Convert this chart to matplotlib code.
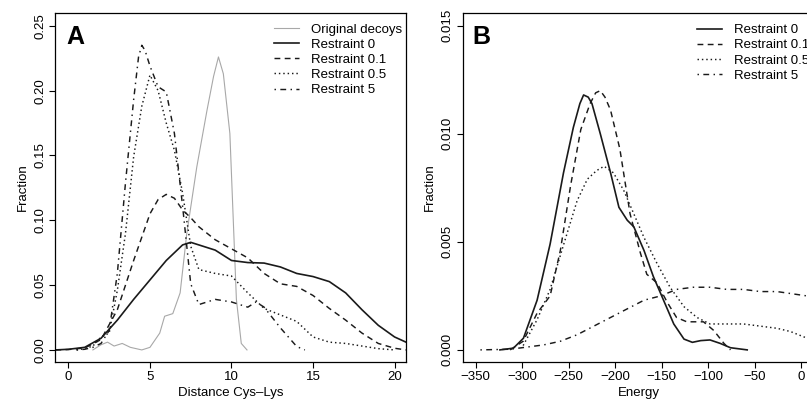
#!/usr/bin/env python3
import matplotlib
matplotlib.use("Agg")
import matplotlib.pyplot as plt

plt.rcParams['font.family'] = ['Liberation Sans', 'DejaVu Sans']

# ---- panel A: distance Cys-Lys ----
orig_x = [1.5, 2.0, 2.4, 2.8, 3.3, 3.8, 4.5, 5.0, 5.6, 5.9, 6.4, 6.85, 7.26, 7.87, 8.5, 8.9, 9.2, 9.5, 9.9, 10.1, 10.3, 10.6, 10.95]
orig_y = [0.0, 0.004, 0.006, 0.003, 0.005, 0.002, 0.0, 0.002, 0.013, 0.026, 0.028, 0.044, 0.09, 0.141, 0.185, 0.211, 0.226, 0.213, 0.167, 0.103, 0.039, 0.005, 0.0]

r0_x = [-0.8, 0, 1, 2, 3, 4, 5, 6, 7, 7.5, 8, 9, 10, 11, 12, 13, 14, 15, 16, 17, 18, 19, 20, 20.7]
r0_y = [0.0, 0.0005, 0.002, 0.009, 0.023, 0.039, 0.054, 0.069, 0.081, 0.083, 0.081, 0.077, 0.069, 0.0674, 0.067, 0.064, 0.059, 0.0566, 0.0527, 0.044, 0.031, 0.019, 0.010, 0.006]

r01_x = [-0.8, 0, 1, 2, 3, 4, 5, 5.5, 6, 6.5, 7, 7.5, 8, 9, 10, 11, 12, 13, 14, 15, 16, 17, 18, 19, 20, 20.7]
r01_y = [0.0, 0.0003, 0.0015, 0.008, 0.031, 0.069, 0.105, 0.116, 0.120, 0.117, 0.108, 0.102, 0.095, 0.085, 0.078, 0.071, 0.059, 0.051, 0.049, 0.042, 0.032, 0.023, 0.013, 0.005, 0.0013, 0.0]

r05_x = [0.5, 1, 1.5, 2, 2.5, 3, 3.5, 4, 4.5, 5, 5.5, 6, 6.5, 7, 7.5, 8, 9, 10, 11, 12, 13, 14, 15, 16, 17, 18, 19, 20]
r05_y = [0.0, 0.001, 0.003, 0.01, 0.013, 0.046, 0.09, 0.149, 0.188, 0.212, 0.2, 0.175, 0.154, 0.121, 0.08, 0.062, 0.059, 0.057, 0.044, 0.032, 0.027, 0.022, 0.010, 0.006, 0.005, 0.003, 0.001, 0.0]

r5_x = [0.5, 1, 1.5, 2, 2.5, 3, 3.5, 4, 4.3, 4.5, 4.7, 5, 5.5, 6, 6.5, 7, 7.5, 8, 8.5, 9, 10, 11, 11.5, 12, 13, 14, 14.5]
r5_y = [0.0, 0.0005, 0.002, 0.005, 0.015, 0.059, 0.129, 0.193, 0.226, 0.235, 0.231, 0.219, 0.203, 0.199, 0.167, 0.111, 0.051, 0.035, 0.037, 0.039, 0.037, 0.033, 0.037, 0.033, 0.017, 0.0026, 0.0]

# ---- panel B: energy ----
e0_x = [-324, -309.5, -298.7, -284, -270, -255.6, -245, -238, -234, -229, -225, -216, -205, -196, -187, -180, -169, -159, -148, -137, -126, -117, -108, -98, -87, -76, -58]
e0_y = [0.0, 0.00008, 0.00054, 0.0023, 0.0049, 0.0082, 0.0103, 0.0114, 0.0118, 0.0117, 0.0114, 0.0100, 0.0082, 0.0066, 0.0060, 0.0057, 0.0046, 0.0034, 0.0023, 0.0012, 0.0005, 0.00035, 0.00043, 0.00046, 0.0003, 0.0001, 0.0]

e01_x = [-313, -299, -284, -270, -259, -248, -237, -227, -221, -216, -211, -205, -195, -184, -173, -166, -155, -144, -134, -123, -105, -94, -83, -76]
e01_y = [0.0, 0.0004, 0.0017, 0.0025, 0.0046, 0.0076, 0.0102, 0.0114, 0.0119, 0.0120, 0.0117, 0.0111, 0.0093, 0.0063, 0.0045, 0.0035, 0.0031, 0.0022, 0.0015, 0.0013, 0.0013, 0.0009, 0.0003, 0.0]

e05_x = [-299, -284, -270, -256, -241, -230, -220, -212, -202, -191, -180, -169, -155, -141, -126, -112, -98, -80, -62, -44, -26, -11.5, 3, 15]
e05_y = [0.0002, 0.0014, 0.0028, 0.0048, 0.0069, 0.0079, 0.0083, 0.0085, 0.0082, 0.0074, 0.0063, 0.0052, 0.0040, 0.0029, 0.0020, 0.0015, 0.0012, 0.0012, 0.0012, 0.0011, 0.0010, 0.00085, 0.0006, 0.0004]

e5_x = [-345, -313, -277, -259, -241, -223, -205, -187, -169, -151, -134, -116, -98, -80, -62, -44, -26, 6, 15]
e5_y = [0.0, 0.00003, 0.00023, 0.0004, 0.0007, 0.0011, 0.0015, 0.0019, 0.0023, 0.0025, 0.0028, 0.0029, 0.0029, 0.0028, 0.0028, 0.0027, 0.0027, 0.0025, 0.0025]

labels = ['Restraint 0', 'Restraint 0.1', 'Restraint 0.5', 'Restraint 5']
styles = ['-', (0, (4, 3)), (0, (1, 2)), (0, (1, 3, 4, 3))]

fig = plt.figure(figsize=(8.07, 4.05), dpi=100)
axA = fig.add_axes([0.0682, 0.1062, 0.4349, 0.862])
axB = fig.add_axes([0.5734, 0.1062, 0.4366, 0.862])

axA.plot(orig_x, orig_y, color='#a8a8a8', lw=0.8, label='Original decoys')
for xs, ys, st, lb in zip([r0_x, r01_x, r05_x, r5_x], [r0_y, r01_y, r05_y, r5_y], styles, labels):
    axA.plot(xs, ys, color='#1a1a1a', lw=1.2 if st == '-' else 1.05, ls=st, label=lb)

for xs, ys, st, lb in zip([e0_x, e01_x, e05_x, e5_x], [e0_y, e01_y, e05_y, e5_y], styles, labels):
    axB.plot(xs, ys, color='#1a1a1a', lw=1.2 if st == '-' else 1.05, ls=st, label=lb)

axA.set_xlim(-0.82, 20.7)
axA.set_ylim(-0.0093, 0.260)
axA.set_xticks([0, 5, 10, 15, 20])
axA.set_yticks([0.0, 0.05, 0.10, 0.15, 0.20, 0.25])
axA.set_yticklabels(['0.00', '0.05', '0.10', '0.15', '0.20', '0.25'])
axA.set_xlabel('Distance Cys\u2013Lys', fontsize=9.5, labelpad=3)

axB.set_xlim(-364, 15)
axB.set_ylim(-0.00056, 0.0156)
axB.set_xticks([-350, -300, -250, -200, -150, -100, -50, 0])
axB.set_yticks([0.0, 0.005, 0.010, 0.015])
axB.set_yticklabels(['0.000', '0.005', '0.010', '0.015'])
axB.set_xlabel('Energy', fontsize=9.5, labelpad=3)

for ax, letter, lx in [(axA, 'A', 0.032), (axB, 'B', 0.027)]:
    ax.set_ylabel('Fraction', fontsize=9.5, labelpad=4)
    ax.tick_params(direction='out', length=4.5, width=0.8, labelsize=9.5, pad=2)
    for lab in ax.get_yticklabels():
        lab.set_rotation(90)
        lab.set_va('center')
    for sp in ax.spines.values():
        sp.set_linewidth(0.9)
    ax.text(lx, 0.965, letter, transform=ax.transAxes, fontsize=18, fontweight='bold',
            ha='left', va='top')

axA.legend(loc='upper left', bbox_to_anchor=(0.61, 0.985), frameon=False, fontsize=9.5,
           handlelength=1.9, handletextpad=0.9, labelspacing=0.22, borderaxespad=0)
axB.legend(loc='upper left', bbox_to_anchor=(0.65, 0.983), frameon=False, fontsize=9.5,
           handlelength=1.9, handletextpad=0.9, labelspacing=0.22, borderaxespad=0)

plt.savefig('out.png', dpi=100)
